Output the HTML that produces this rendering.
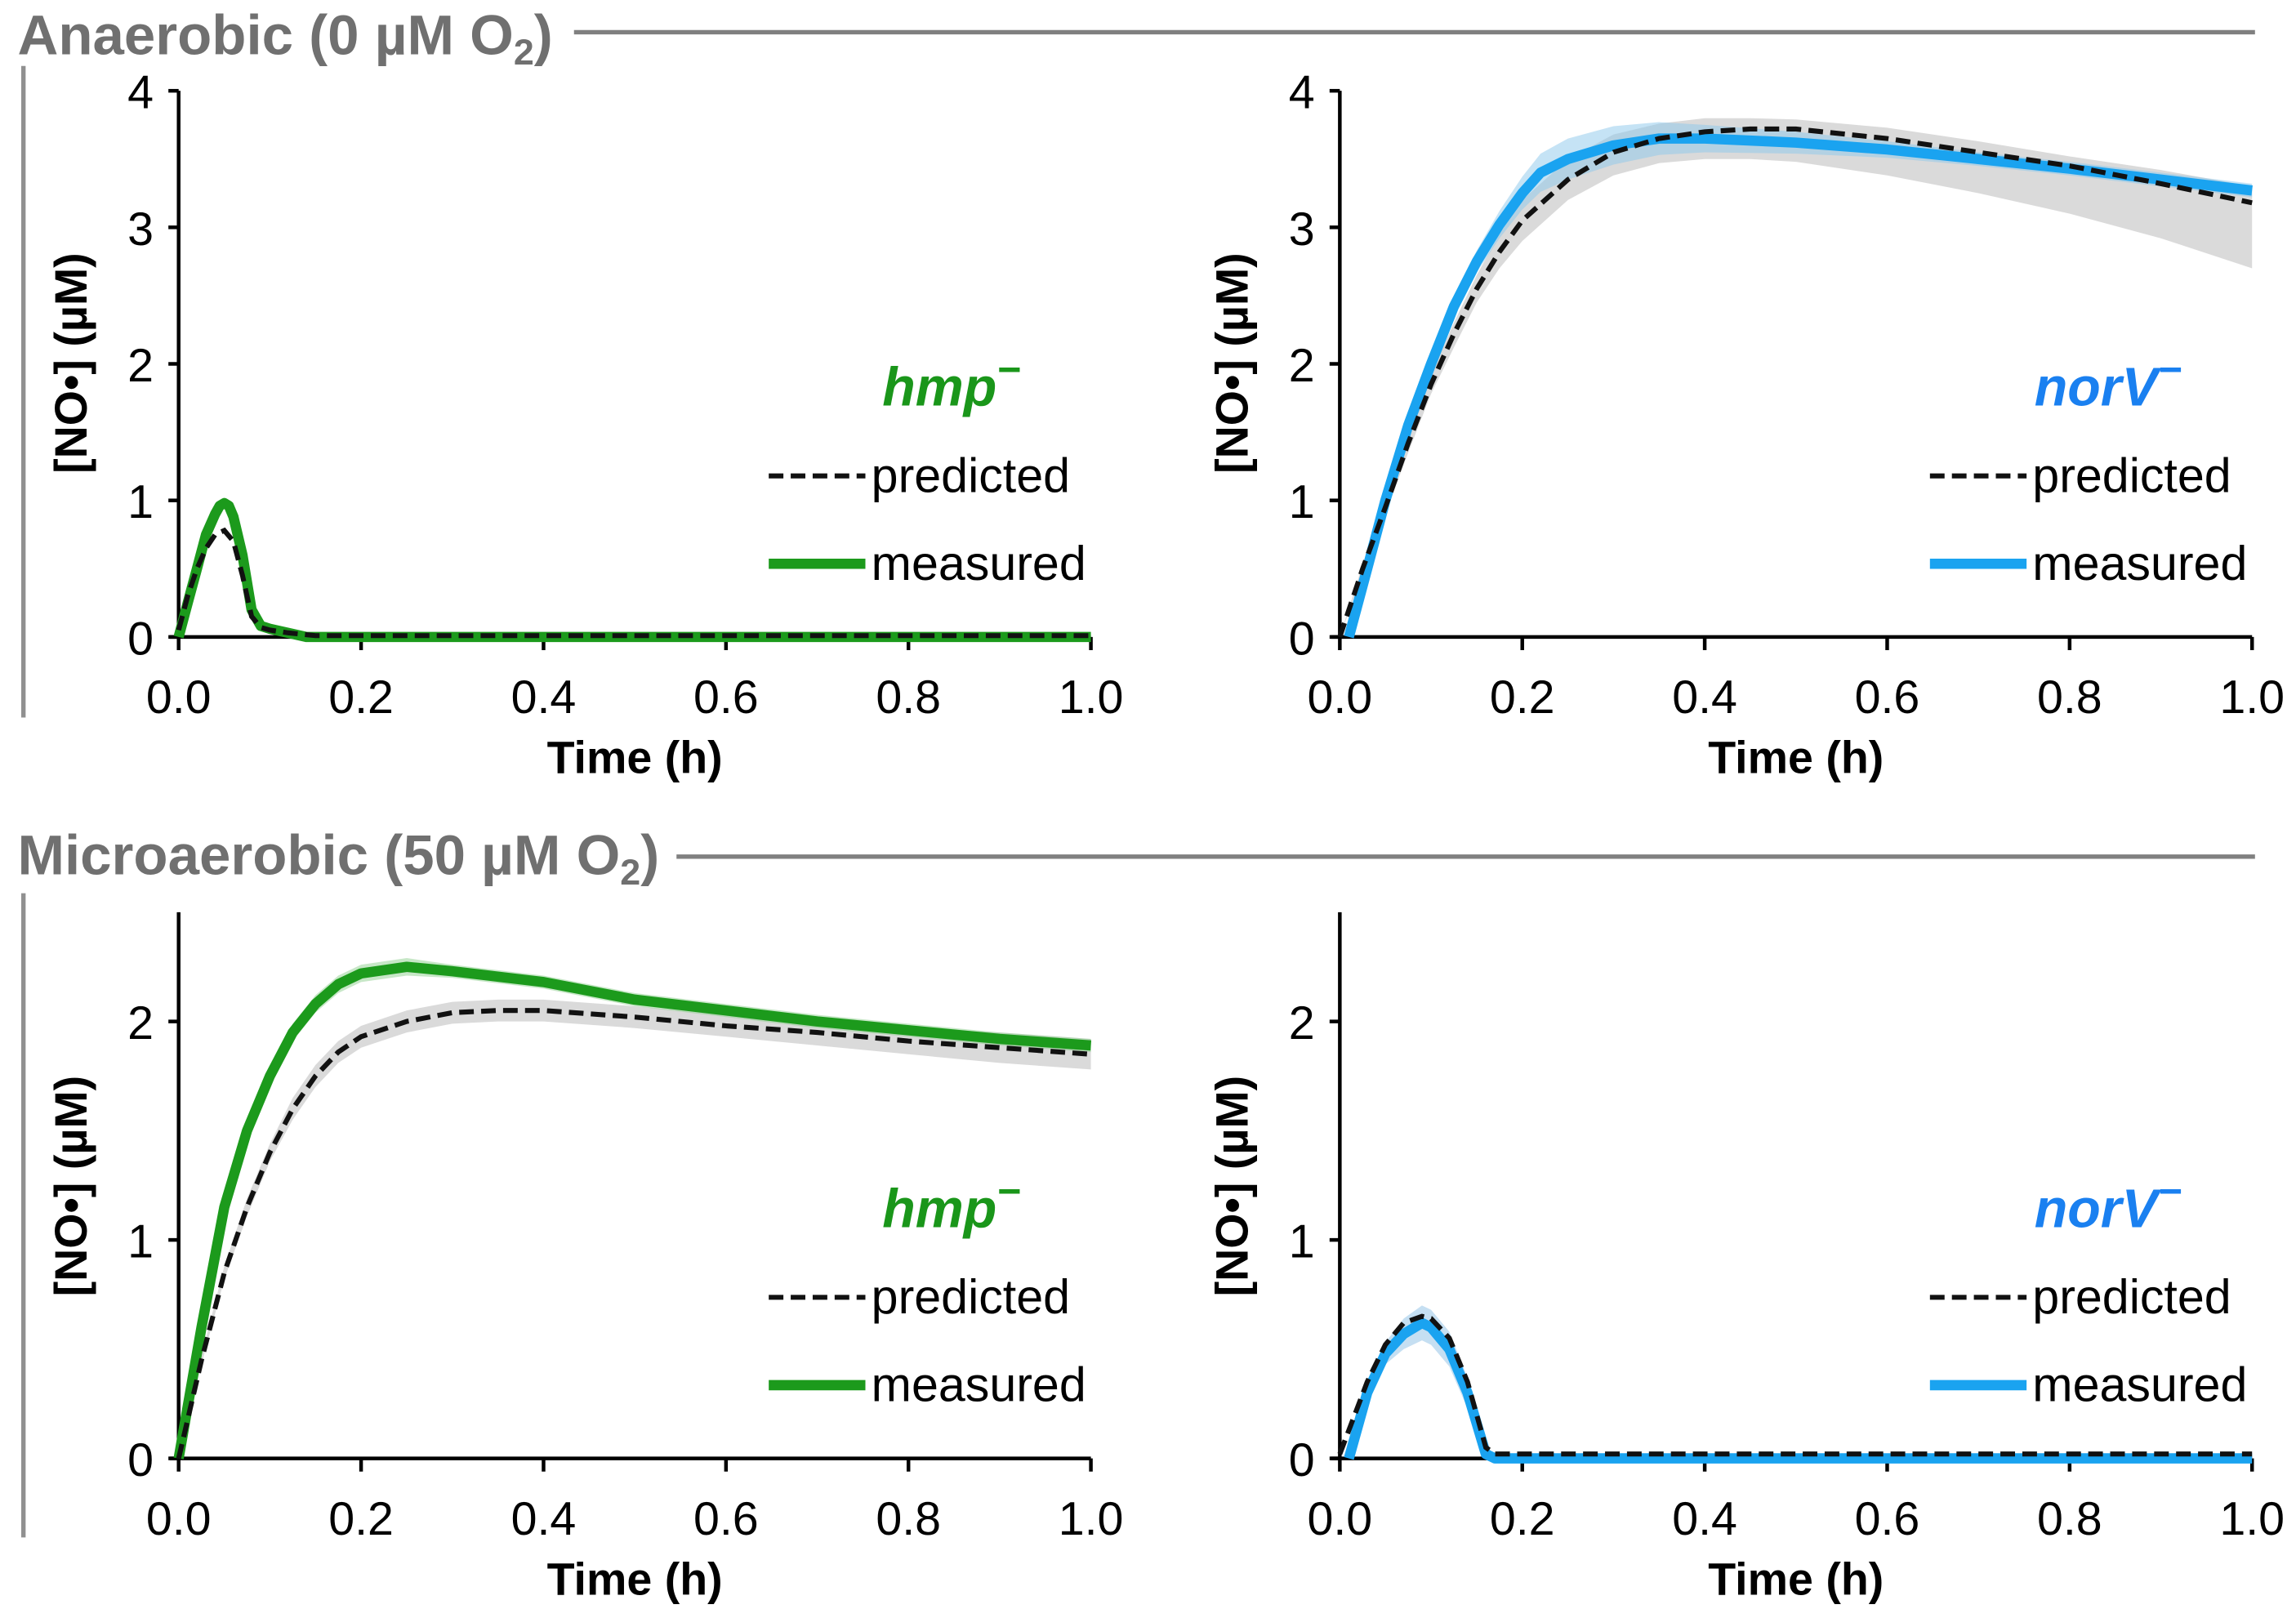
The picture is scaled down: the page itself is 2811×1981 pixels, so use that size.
<!DOCTYPE html>
<html><head><meta charset="utf-8"><style>
html,body{margin:0;padding:0;background:#fff;}
svg{display:block;}
text{font-family:"Liberation Sans",sans-serif;}
</style></head><body>
<svg id="chart" width="2811" height="1981" viewBox="0 0 1568 1105" xmlns="http://www.w3.org/2000/svg">
<rect width="1568" height="1105" fill="#fff"/>
<g>
<text x="12" y="37" font-size="38.5" font-weight="bold" fill="#707070">Anaerobic (0 µM O<tspan font-size="25" dy="7">2</tspan><tspan dy="-7">)</tspan></text>
<line x1="392" y1="22" x2="1540" y2="22" stroke="#808080" stroke-width="3"/>
<line x1="16" y1="45" x2="16" y2="490" stroke="#909090" stroke-width="3"/>
</g>
<g>
<text x="12" y="597" font-size="38.5" font-weight="bold" fill="#707070">Microaerobic (50 µM O<tspan font-size="25" dy="7">2</tspan><tspan dy="-7">)</tspan></text>
<line x1="462" y1="585" x2="1540" y2="585" stroke="#808080" stroke-width="3"/>
<line x1="16" y1="610" x2="16" y2="1050" stroke="#909090" stroke-width="3"/>
</g>
</svg>
<script>
// Panel A: anaerobic hmp-
const aMeasT=[0,0.01,0.02,0.03,0.04,0.045,0.05,0.055,0.06,0.07,0.08,0.09,0.1,0.12,0.14,0.2,1.0];
const aMeasV=[0,0.25,0.5,0.75,0.9,0.96,0.98,0.96,0.88,0.6,0.2,0.08,0.06,0.03,0,0,0];
const aPredT=[0,0.01,0.02,0.03,0.04,0.05,0.06,0.07,0.08,0.09,0.1,0.12,0.15,0.2,1.0];
const aPredV=[0.05,0.3,0.5,0.65,0.75,0.78,0.7,0.45,0.15,0.07,0.05,0.03,0.01,0.01,0.01];
// Panel B: anaerobic norV-
const bMeasT=[0.01,0.03,0.05,0.075,0.1,0.125,0.15,0.175,0.2,0.22,0.25,0.3,0.35,0.4,0.5,0.6,0.7,0.8,0.9,1.0];
const bMeasV=[0,0.5,1.0,1.55,2.0,2.42,2.75,3.02,3.25,3.4,3.5,3.6,3.65,3.65,3.62,3.57,3.5,3.43,3.35,3.27];
const bMeasErr=[0,0.02,0.03,0.04,0.05,0.07,0.08,0.1,0.12,0.14,0.15,0.14,0.12,0.1,0.08,0.06,0.05,0.05,0.05,0.05];
const bPredT=[0,0.025,0.05,0.075,0.1,0.125,0.15,0.175,0.2,0.25,0.3,0.35,0.4,0.45,0.5,0.6,0.7,0.8,0.9,1.0];
const bPredV=[0,0.5,0.95,1.42,1.85,2.22,2.55,2.82,3.05,3.35,3.55,3.65,3.7,3.72,3.72,3.65,3.55,3.45,3.32,3.18];
const bPredLo=[0,0.47,0.9,1.35,1.78,2.12,2.45,2.7,2.9,3.2,3.38,3.47,3.5,3.5,3.48,3.38,3.25,3.1,2.92,2.7];
const bPredHi=[0,0.53,1.0,1.48,1.92,2.3,2.65,2.95,3.2,3.5,3.68,3.76,3.8,3.8,3.79,3.73,3.63,3.52,3.42,3.3];
// Panel C: microaerobic hmp-
const cMeasT=[0,0.025,0.05,0.075,0.1,0.125,0.15,0.175,0.2,0.25,0.3,0.4,0.5,0.6,0.7,0.8,0.9,1.0];
const cMeasV=[0,0.6,1.15,1.5,1.75,1.95,2.08,2.17,2.22,2.25,2.23,2.18,2.1,2.05,2.0,1.96,1.92,1.89];
const cMeasErr=[0,0.03,0.04,0.04,0.04,0.04,0.04,0.04,0.04,0.04,0.03,0.03,0.03,0.03,0.03,0.03,0.03,0.03];
const cPredT=[0,0.025,0.05,0.075,0.1,0.125,0.15,0.175,0.2,0.25,0.3,0.35,0.4,0.5,0.6,0.7,0.8,0.9,1.0];
const cPredV=[0,0.45,0.85,1.15,1.4,1.6,1.75,1.86,1.93,2.0,2.04,2.05,2.05,2.02,1.98,1.95,1.91,1.88,1.85];
const cPredErr=[0,0.02,0.03,0.04,0.04,0.05,0.05,0.05,0.05,0.05,0.05,0.05,0.05,0.05,0.05,0.06,0.06,0.07,0.07];
// Panel D: microaerobic norV-
const dMeasT=[0.01,0.03,0.05,0.07,0.09,0.1,0.12,0.14,0.16,0.17,1.0];
const dMeasV=[0,0.3,0.48,0.57,0.62,0.6,0.5,0.3,0.02,0,0];
const dMeasErr=[0,0.03,0.05,0.07,0.08,0.08,0.08,0.07,0.02,0,0];
const dPredT=[0,0.03,0.05,0.07,0.09,0.1,0.12,0.14,0.16,0.17,1.0];
const dPredV=[0.02,0.35,0.52,0.62,0.65,0.64,0.55,0.35,0.05,0.02,0.02];
const xTickLabels=["0.0","0.2","0.4","0.6","0.8","1.0"];
const xTickVals=[0,0.2,0.4,0.6,0.8,1.0];
const yTicksTop=[0,1,2,3,4];
const yTicksBottom=[0,1,2];

const NS="http://www.w3.org/2000/svg";
const svg=document.getElementById('chart');
function mk(tag,attrs,parent){const e=document.createElementNS(NS,tag);for(const k in attrs)e.setAttribute(k,attrs[k]);(parent||svg).appendChild(e);return e;}
function txt(parent,x,y,s,size,anchor,weight,fill,style){
  const t=mk('text',{x:x,y:y,'font-size':size,'text-anchor':anchor||'start','font-weight':weight||'normal',fill:fill||'#000','font-style':style||'normal'},parent);
  t.textContent=s;return t;}

function panel(opt){
  const g=mk('g',{});
  
  
  const X=v=>opt.x0+(opt.x1-opt.x0)*v;
  const Y=v=>opt.y0-(opt.y0-opt.yTop)*v/opt.yMax;
  const line=(T,V)=>T.map((t,i)=>(i?'L':'M')+X(t).toFixed(1)+','+Y(V[i]).toFixed(1)).join(' ');
  const band=(T,lo,hi)=>{let d=T.map((t,i)=>(i?'L':'M')+X(t).toFixed(1)+','+Y(hi[i]).toFixed(1)).join(' ');
    for(let i=T.length-1;i>=0;i--)d+=' L'+X(T[i]).toFixed(1)+','+Y(lo[i]).toFixed(1);return d+'Z';};
  if(opt.predLo){const p=mk('path',{d:band(opt.predT,opt.predLo,opt.predHi),fill:'#d4d4d4',opacity:0.85},g);
    }
  if(opt.measErr){const lo=opt.measV.map((v,i)=>Math.max(0,v-opt.measErr[i])),hi=opt.measV.map((v,i)=>v+opt.measErr[i]);
    const p=mk('path',{d:band(opt.measT,lo,hi),fill:opt.bandColor,opacity:0.5},g);
    }
  const ax=mk('g',{stroke:'#000','stroke-width':2.5,fill:'none'},g);
  
  mk('line',{x1:opt.x0,y1:opt.yTop,x2:opt.x0,y2:opt.y0},ax);
  mk('line',{x1:opt.x0-6,y1:opt.y0,x2:opt.x1,y2:opt.y0},ax);
  xTickVals.forEach((v,i)=>{mk('line',{x1:X(v),y1:opt.y0,x2:X(v),y2:opt.y0+9},ax);
    const t=txt(g,X(v),opt.y0+52,xTickLabels[i],32,'middle');
    });
  opt.yTicks.forEach(v=>{mk('line',{x1:opt.x0-7,y1:Y(v),x2:opt.x0,y2:Y(v)},ax);
    const t=txt(g,opt.x0-26,Y(v)+12,String(v),32,'middle');
    });
  const xt=txt(g,(opt.x0+opt.x1)/2,opt.y0+93,'Time (h)',31,'middle','bold');
  
  const yc=opt.yTitleY, yx=opt.x0-63;
  const yt=mk('text',{x:0,y:0,'font-size':31,'font-weight':'bold','text-anchor':'middle',transform:`translate(${yx},${yc}) rotate(-90)`},g);
  yt.textContent='[NO•] (µM)';
  const m=mk('path',{d:line(opt.measT,opt.measV),stroke:opt.color,'stroke-width':7,fill:'none','stroke-linejoin':'round'},g);
  
  const p=mk('path',{d:line(opt.predT,opt.predV),stroke:'#111','stroke-width':3.4,fill:'none','stroke-dasharray':'10,5'},g);
  
  const lg=mk('g',{},g);
  const lx=opt.x1-220, ly=opt.y0-110;
  const lbl=txt(lg,opt.x1-48,ly-48,opt.label,37,'end','bold',opt.labelColor,'italic');
  const sup=mk('tspan',{dy:-15,'font-size':28},lbl);sup.textContent='−';
  
  mk('line',{x1:lx,y1:ly,x2:lx+66,y2:ly,stroke:'#111','stroke-width':3.4,'stroke-dasharray':'10,5'},lg);
  txt(lg,lx+70,ly+11,'predicted',33);
  mk('line',{x1:lx,y1:ly+60,x2:lx+66,y2:ly+60,stroke:opt.color,'stroke-width':7},lg);
  txt(lg,lx+70,ly+71,'measured',33);
}
const green='#1c9a1c', blue='#1aa3f0';
panel({name:'panel-anaerobic-hmp',x0:122,x1:745,y0:435,yTop:62,yMax:4,yTicks:yTicksTop,yTitleY:248,
  measT:aMeasT,measV:aMeasV,predT:aPredT,predV:aPredV,color:green,label:'hmp',labelColor:'#1a961a'});
panel({name:'panel-anaerobic-norv',x0:915,x1:1538,y0:435,yTop:62,yMax:4,yTicks:yTicksTop,yTitleY:248,
  measT:bMeasT,measV:bMeasV,measErr:bMeasErr,bandColor:'#8cc8ec',predT:bPredT,predV:bPredV,predLo:bPredLo,predHi:bPredHi,color:blue,label:'norV',labelColor:'#1a80f0'});
const cLo=cPredV.map((v,i)=>v-cPredErr[i]), cHi=cPredV.map((v,i)=>v+cPredErr[i]);
panel({name:'panel-microaerobic-hmp',x0:122,x1:745,y0:996,yTop:623,yMax:2.5,yTicks:yTicksBottom,yTitleY:810,
  measT:cMeasT,measV:cMeasV,measErr:cMeasErr,bandColor:'#8fd08f',predT:cPredT,predV:cPredV,predLo:cLo,predHi:cHi,color:green,label:'hmp',labelColor:'#1a961a'});
panel({name:'panel-microaerobic-norv',x0:915,x1:1538,y0:996,yTop:623,yMax:2.5,yTicks:yTicksBottom,yTitleY:810,
  measT:dMeasT,measV:dMeasV,measErr:dMeasErr,bandColor:'#8cc0e6',predT:dPredT,predV:dPredV,color:blue,label:'norV',labelColor:'#1a80f0'});
</script>
</body></html>
